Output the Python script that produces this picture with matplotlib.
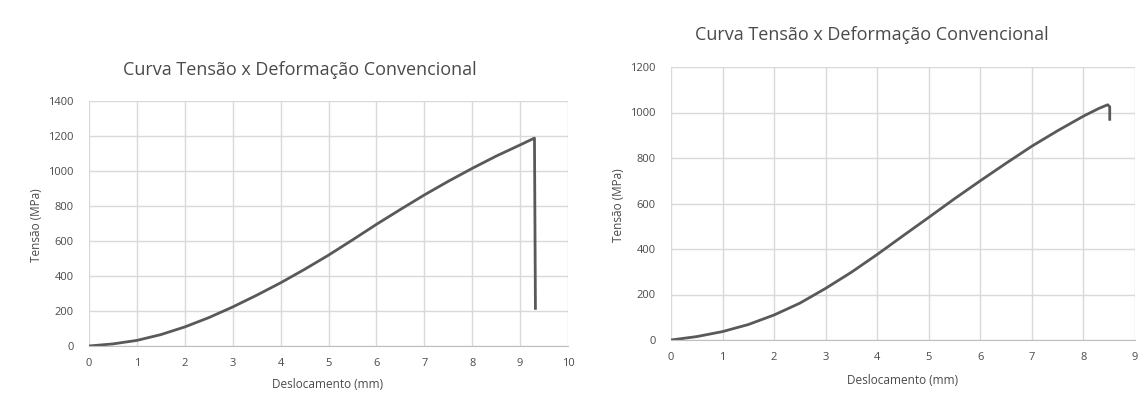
import matplotlib
matplotlib.use("Agg")
import matplotlib.pyplot as plt

# ---------------- DATA ----------------
# left test: displacement (mm) vs stress (MPa)
LEFT_X = [0, 0.5, 1, 1.5, 2, 2.5, 3, 3.5, 4, 4.5, 5, 5.5, 6, 6.5, 7, 7.5,
          8, 8.5, 9, 9.3, 9.32]
LEFT_Y = [0, 12, 32, 65, 109, 162, 223, 290, 361, 438, 519, 606, 695, 780,
          863, 941, 1015, 1085, 1149, 1188, 215]

# right test
RIGHT_X = [0, 0.5, 1, 1.5, 2, 2.5, 3, 3.5, 4, 4.5, 5, 5.5, 6, 6.5, 7, 7.5,
           8, 8.3, 8.47, 8.51, 8.51]
RIGHT_Y = [0, 15, 37, 68, 110, 162, 227, 298, 376, 458, 539, 621, 700, 777,
           852, 920, 984, 1018, 1034, 1025, 970]

TITLE = "Curva Tensão x Deformação Convencional"
XLABEL = "Deslocamento (mm)"
YLABEL = "Tensão (MPa)"
# --------------------------------------

LINE_COLOR = "#595959"
GRID_COLOR = "#d9d9d9"
TEXT_COLOR = "#4a4a4a"
FONT = ["Open Sans", "DejaVu Sans"]

plt.rcParams["font.family"] = FONT

fig = plt.figure(figsize=(11.45, 4.0), dpi=100)


def px(x, y):
    return x / 1145, 1 - y / 400


def draw(rect, xs, ys, xmax, ymax, ystep, title_xy, xlabel_xy, ylabel_xy):
    ax = fig.add_axes(rect)
    ax.plot(xs, ys, color=LINE_COLOR, lw=2, solid_joinstyle="round")
    ax.set_xlim(0, xmax)
    ax.set_ylim(0, ymax)
    ax.set_xticks(range(0, xmax + 1))
    ax.set_yticks(range(0, ymax + 1, ystep))
    ax.grid(True, color=GRID_COLOR, lw=1)
    ax.set_axisbelow(True)
    for side in ("top", "right", "left"):
        ax.spines[side].set_visible(False)
    ax.spines["bottom"].set_color("#bfbfbf")
    ax.tick_params(length=0, labelsize=8, colors=TEXT_COLOR, pad=9)
    ax.tick_params(axis="y", pad=11)

    fig.text(*px(*title_xy), TITLE, ha="center", va="center",
             fontsize=13, color=TEXT_COLOR)
    fig.text(*px(*xlabel_xy), XLABEL, ha="center", va="center",
             fontsize=8.5, color=TEXT_COLOR)
    fig.text(*px(*ylabel_xy), YLABEL, ha="center", va="center",
             fontsize=8.5, color=TEXT_COLOR, rotation=90)
    return ax


draw([89 / 1145, 1 - 346 / 400, 479 / 1145, 245 / 400],
     LEFT_X, LEFT_Y, 10, 1400, 200,
     (300, 70), (328, 385), (36, 225))

draw([671 / 1145, 1 - 340 / 400, 464 / 1145, 273 / 400],
     RIGHT_X, RIGHT_Y, 9, 1200, 200,
     (872, 35), (903, 380), (618, 205))

fig.savefig("out.png", dpi=100)
